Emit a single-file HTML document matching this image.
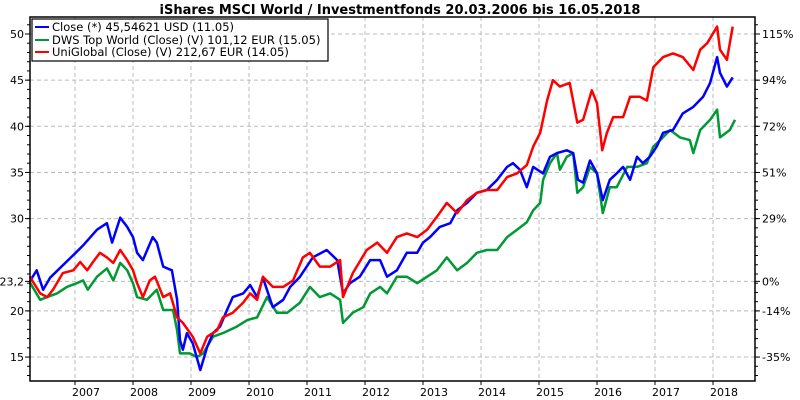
<!DOCTYPE html>
<html><head><meta charset="utf-8">
<style>
body{margin:0;background:#fff;}
svg{display:block;font-family:"DejaVu Sans","Liberation Sans",sans-serif;}
</style></head>
<body>
<svg id="chart" width="800" height="400" viewBox="0 0 800 400" xmlns="http://www.w3.org/2000/svg">
<text x="400" y="14" text-anchor="middle" font-size="13" font-weight="bold">iShares MSCI World / Investmentfonds 20.03.2006 bis 16.05.2018</text>
<g id="grid"></g>
<g id="series"></g>
<rect x="30" y="17" width="725" height="364" fill="none" stroke="#000" stroke-width="1.5"/>
<g id="axes"></g>
<g>
<rect x="32" y="19" width="296" height="42" fill="#fff" stroke="#000" stroke-width="1.2"/>
<line x1="35" y1="27" x2="49" y2="27" stroke="#0000ff" stroke-width="2"/>
<text x="52" y="31" font-size="11.5">Close (*) 45,54621 USD (11.05)</text>
<line x1="35" y1="40" x2="49" y2="40" stroke="#009933" stroke-width="2"/>
<text x="52" y="44" font-size="11.5">DWS Top World (Close) (V) 101,12 EUR (15.05)</text>
<line x1="35" y1="52" x2="49" y2="52" stroke="#ff0000" stroke-width="2"/>
<text x="52" y="56" font-size="11.5">UniGlobal (Close) (V) 212,67 EUR (14.05)</text>
</g>
</svg>
<script>
const yTicks=[50,45,40,35,30,23.2,20,15];
const yTickLabels=["50","45","40","35","30","23,2","20","15"];
const pctTickLabels=["115%","94%","72%","51%","29%","0%","-14%","-35%"];
const xYears=[2007,2008,2009,2010,2011,2012,2013,2014,2015,2016,2017,2018];

const blueT=[2006.22,2006.34,2006.45,2006.57,2007.03,2007.14,2007.38,2007.55,2007.64,2007.78,2007.90,2008.00,2008.07,2008.17,2008.34,2008.41,2008.52,2008.67,2008.76,2008.81,2008.86,2008.93,2009.03,2009.16,2009.28,2009.38,2009.50,2009.62,2009.72,2009.90,2010.02,2010.14,2010.24,2010.41,2010.59,2010.71,2010.88,2011.10,2011.34,2011.52,2011.62,2011.74,2011.91,2012.09,2012.26,2012.38,2012.55,2012.72,2012.90,2013.00,2013.12,2013.29,2013.47,2013.59,2013.76,2013.93,2014.10,2014.28,2014.45,2014.55,2014.67,2014.79,2014.90,2015.07,2015.19,2015.31,2015.48,2015.59,2015.67,2015.76,2015.88,2016.00,2016.10,2016.22,2016.34,2016.45,2016.57,2016.69,2016.79,2016.91,2017.03,2017.14,2017.31,2017.48,2017.66,2017.83,2017.95,2018.07,2018.12,2018.24,2018.34];
const blueV=[23.2,24.4,22.3,23.6,26.4,27.1,28.8,29.5,27.4,30.1,29.1,28.0,26.3,25.5,28.0,27.4,24.8,24.4,21.2,16.8,15.8,17.6,16.5,13.6,16.1,17.6,18.3,20.1,21.5,21.9,22.8,21.5,23.6,20.4,21.2,22.6,23.7,25.8,26.6,25.5,21.9,23.0,23.7,25.5,25.5,23.7,24.4,26.3,26.3,27.4,28.0,29.1,29.5,30.9,31.7,32.8,33.1,34.2,35.6,36.0,35.3,33.4,35.6,34.9,36.7,37.1,37.4,37.1,34.2,33.9,36.3,34.9,32.0,34.2,34.9,35.6,34.2,36.7,36.0,36.7,37.8,39.3,39.6,41.4,42.1,43.2,44.7,47.5,45.8,44.3,45.3];

const redT=[2006.22,2006.40,2006.52,2006.62,2006.79,2006.97,2007.09,2007.21,2007.31,2007.43,2007.55,2007.66,2007.78,2007.90,2008.00,2008.07,2008.17,2008.29,2008.38,2008.52,2008.64,2008.76,2008.86,2009.03,2009.16,2009.28,2009.45,2009.55,2009.72,2009.90,2010.02,2010.14,2010.24,2010.41,2010.59,2010.76,2010.93,2011.05,2011.22,2011.40,2011.57,2011.62,2011.79,2012.03,2012.21,2012.38,2012.55,2012.72,2012.90,2013.07,2013.24,2013.41,2013.59,2013.76,2013.93,2014.10,2014.28,2014.45,2014.62,2014.79,2014.90,2015.02,2015.14,2015.24,2015.36,2015.53,2015.66,2015.76,2015.91,2016.00,2016.09,2016.17,2016.28,2016.45,2016.57,2016.74,2016.86,2016.97,2017.14,2017.31,2017.48,2017.66,2017.78,2017.90,2018.07,2018.12,2018.24,2018.34];
const redV=[23.7,21.9,21.5,22.3,24.1,24.4,25.3,24.4,25.3,26.3,25.8,25.2,26.6,25.5,24.4,23.0,21.5,23.3,23.7,21.5,21.9,19.3,18.7,17.2,15.4,17.2,17.9,19.3,19.8,20.9,21.9,21.2,23.7,22.6,22.6,23.3,25.8,26.3,24.8,24.8,25.5,21.5,24.1,26.6,27.4,26.3,28.0,28.4,28.0,28.8,30.2,31.7,30.6,32.0,32.8,33.1,33.1,34.5,34.9,35.8,37.8,39.3,42.8,45.0,44.3,44.7,40.4,40.7,43.9,42.5,37.4,39.3,41.0,41.0,43.2,43.2,42.8,46.4,47.5,47.9,47.5,46.1,48.3,49.0,50.8,48.3,47.2,50.8];

const greenT=[2006.22,2006.40,2006.52,2006.69,2006.86,2007.03,2007.14,2007.22,2007.38,2007.55,2007.66,2007.78,2007.90,2008.00,2008.07,2008.24,2008.41,2008.52,2008.69,2008.76,2008.81,2008.98,2009.10,2009.21,2009.38,2009.55,2009.79,2009.97,2010.14,2010.31,2010.48,2010.66,2010.88,2011.05,2011.22,2011.40,2011.57,2011.62,2011.79,2011.97,2012.09,2012.26,2012.38,2012.55,2012.72,2012.90,2013.07,2013.24,2013.41,2013.59,2013.76,2013.93,2014.10,2014.28,2014.45,2014.62,2014.79,2014.90,2015.02,2015.07,2015.19,2015.31,2015.36,2015.48,2015.59,2015.66,2015.76,2015.88,2016.00,2016.10,2016.22,2016.34,2016.52,2016.69,2016.86,2016.97,2017.09,2017.26,2017.43,2017.60,2017.66,2017.78,2017.95,2018.07,2018.12,2018.29,2018.38];
const greenV=[23.1,21.2,21.5,21.9,22.6,23.0,23.3,22.3,23.7,24.6,23.3,25.2,24.4,23.0,21.5,21.2,22.3,20.1,20.1,17.9,15.4,15.4,15.0,15.4,17.2,17.6,18.3,19.0,19.3,21.5,19.8,19.8,20.9,22.6,21.5,21.9,21.2,18.7,19.8,20.4,21.9,22.6,21.9,23.7,23.7,23.0,23.7,24.4,25.8,24.4,25.2,26.3,26.6,26.6,28.0,28.8,29.6,30.9,31.7,34.2,36.0,37.1,35.3,36.7,37.1,32.8,33.4,35.6,34.9,30.6,33.4,33.4,35.6,35.6,36.0,37.8,38.5,39.6,38.8,38.5,37.1,39.6,40.7,41.8,38.8,39.6,40.7];

const NS="http://www.w3.org/2000/svg";
const L=30,R=755,T=17,B=381;
function xs(t){return 75+(t-2007)*58;}
function ys(v){return 34+(50-v)*9.23;}
function mk(tag,attrs,parent){const e=document.createElementNS(NS,tag);for(const k in attrs)e.setAttribute(k,attrs[k]);parent.appendChild(e);return e;}
const grid=document.getElementById('grid'),axes=document.getElementById('axes'),ser=document.getElementById('series');

yTicks.forEach((v,i)=>{
  const y=ys(v);
  const g=mk('line',{x1:L,x2:R,y1:y,y2:y,stroke:'#bbb','stroke-dasharray':'4,3'},grid);
  
  
  const t1=mk('line',{x1:L-5,x2:L,y1:y,y2:y,stroke:'#000'},axes);
  
  
  const t2=mk('line',{x1:R,x2:R+5,y1:y,y2:y,stroke:'#000'},axes);
  
  
  const lt=mk('text',{x:L-6,y:y+4,'text-anchor':'end','font-size':'11'},axes);
  lt.textContent=yTickLabels[i];
  
  
  const rt=mk('text',{x:R+7,y:y+4,'font-size':'11'},axes);
  rt.textContent=pctTickLabels[i];
  
  
});
for(let v=13;v<=51;v++){
  const y=ys(v);if(y<T||y>B)continue;
  const m=mk('line',{x1:L-3,x2:L,y1:y,y2:y,stroke:'#000'},axes);
  
  
  const m2=mk('line',{x1:R,x2:R+3,y1:y,y2:y,stroke:'#000'},axes);
  
  
}
xYears.forEach(yr=>{
  const x=xs(yr);
  const g=mk('line',{x1:x,x2:x,y1:T,y2:B,stroke:'#bbb','stroke-dasharray':'4,3'},grid);
  
  
  const t=mk('line',{x1:x,x2:x,y1:B,y2:B+4,stroke:'#000'},axes);
  
  
  const lb=mk('text',{x:x+11,y:B+15,'text-anchor':'middle','font-size':'11'},axes);
  lb.textContent=String(yr);
  
  
});
function drawLine(T2,V,color,name){
  const d=T2.map((t,i)=>(i?'L':'M')+xs(t).toFixed(1)+','+ys(V[i]).toFixed(1)).join(' ');
  const p=mk('path',{d:d,fill:'none',stroke:color,'stroke-width':'2.5','stroke-linejoin':'round'},ser);
  
  
}
drawLine(greenT,greenV,'#009933','line-dws-top-world');
drawLine(blueT,blueV,'#0000ff','line-ishares-close');
drawLine(redT,redV,'#ff0000','line-uniglobal');
</script>
</body></html>
